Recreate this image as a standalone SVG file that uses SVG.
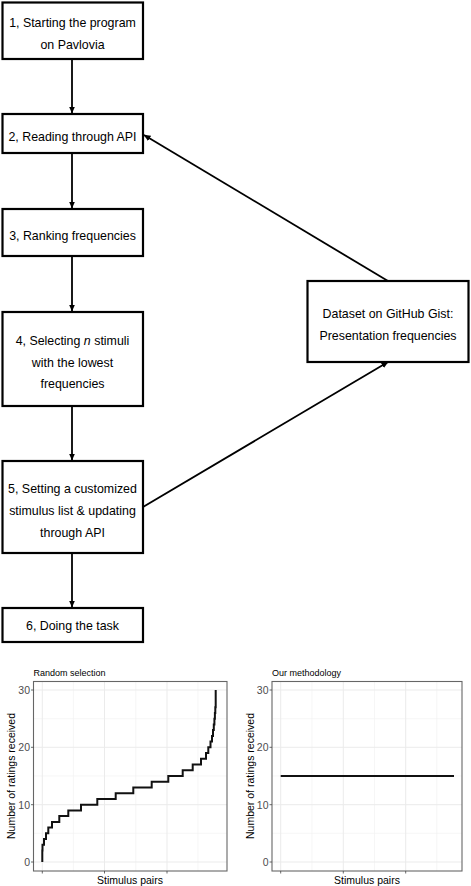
<svg xmlns="http://www.w3.org/2000/svg" width="471" height="886" viewBox="0 0 471 886">
<style>
.box{fill:#fff;stroke:#000;stroke-width:2.2}
.t{font-family:"Liberation Sans",Arial,sans-serif;font-size:12.4px;fill:#000;text-anchor:middle}
.con{stroke:#000;stroke-width:1.8;fill:none}
.gmaj{stroke:#ebebeb;stroke-width:1}
.gmin{stroke:#f2f2f2;stroke-width:0.7}
.border{fill:none;stroke:#666;stroke-width:1.1}
.tick{stroke:#444;stroke-width:0.8}
.tl{font-family:"Liberation Sans",Arial,sans-serif;font-size:10.5px;fill:#4d4d4d;text-anchor:end}
.at{font-family:"Liberation Sans",Arial,sans-serif;font-size:10.5px;fill:#000;text-anchor:middle}
.pt{font-family:"Liberation Sans",Arial,sans-serif;font-size:9px;fill:#000}
.data{fill:none;stroke:#111;stroke-width:2}
</style>
<defs>
<marker id="ah" markerWidth="7" markerHeight="6" refX="6.5" refY="3" orient="auto" markerUnits="userSpaceOnUse">
<path d="M0,0 L7,3 L0,6 Z" fill="#000"/>
</marker>
</defs>

<g id="connectors">
<line class="con" x1="72" y1="59" x2="72" y2="113" marker-end="url(#ah)"/>
<line class="con" x1="72" y1="153" x2="72" y2="208" marker-end="url(#ah)"/>
<line class="con" x1="72" y1="256" x2="72" y2="311" marker-end="url(#ah)"/>
<line class="con" x1="72" y1="406" x2="72" y2="460" marker-end="url(#ah)"/>
<line class="con" x1="72" y1="553" x2="72" y2="607" marker-end="url(#ah)"/>
<line class="con" x1="388" y1="281" x2="144" y2="135" marker-end="url(#ah)"/>
<line class="con" x1="143" y1="507" x2="388" y2="362" marker-end="url(#ah)"/>
</g>

<g id="n1">
<rect class="box" x="2.5" y="2.5" width="140.5" height="56.5"/>
<text class="t" x="72.5" y="26.5">1, Starting the program</text>
<text class="t" x="72.5" y="48.5">on Pavlovia</text>
</g>
<g id="n2">
<rect class="box" x="2.5" y="114" width="140.5" height="39"/>
<text class="t" x="72.5" y="140.5">2, Reading through API</text>
</g>
<g id="n3">
<rect class="box" x="2.5" y="209" width="140.5" height="47"/>
<text class="t" x="72.5" y="239.5">3, Ranking frequencies</text>
</g>
<g id="n4">
<rect class="box" x="2.5" y="312" width="140.5" height="94"/>
<text class="t" x="72.5" y="344.5">4, Selecting <tspan font-style="italic">n</tspan> stimuli</text>
<text class="t" x="72.5" y="366.5">with the lowest</text>
<text class="t" x="72.5" y="387.5">frequencies</text>
</g>
<g id="n5">
<rect class="box" x="2.5" y="461" width="140.5" height="92"/>
<text class="t" x="72.5" y="492.5">5, Setting a customized</text>
<text class="t" x="72.5" y="514.5">stimulus list &amp; updating</text>
<text class="t" x="72.5" y="536.5">through API</text>
</g>
<g id="n6">
<rect class="box" x="2.5" y="608" width="140.5" height="34"/>
<text class="t" x="72.5" y="629.5">6, Doing the task</text>
</g>
<g id="n7">
<rect class="box" x="307.5" y="281" width="161" height="81"/>
<text class="t" x="388" y="317.5">Dataset on GitHub Gist:</text>
<text class="t" x="388" y="339.5">Presentation frequencies</text>
</g>

<g id="plot-left">
<text class="pt" x="33.5" y="676">Random selection</text>
<line class="gmin" x1="33.5" x2="227" y1="718.7" y2="718.7"/>
<line class="gmin" x1="33.5" x2="227" y1="776" y2="776"/>
<line class="gmin" x1="33.5" x2="227" y1="833.3" y2="833.3"/>
<line class="gmin" x1="73.4" x2="73.4" y1="681.5" y2="871"/>
<line class="gmin" x1="135.8" x2="135.8" y1="681.5" y2="871"/>
<line class="gmin" x1="198" x2="198" y1="681.5" y2="871"/>
<line class="gmaj" x1="33.5" x2="227" y1="690" y2="690"/>
<line class="gmaj" x1="33.5" x2="227" y1="747.3" y2="747.3"/>
<line class="gmaj" x1="33.5" x2="227" y1="804.7" y2="804.7"/>
<line class="gmaj" x1="33.5" x2="227" y1="862" y2="862"/>
<line class="gmaj" x1="42.3" x2="42.3" y1="681.5" y2="871"/>
<line class="gmaj" x1="104.5" x2="104.5" y1="681.5" y2="871"/>
<line class="gmaj" x1="167" x2="167" y1="681.5" y2="871"/>
<path class="data" d="M42.3,862 V850.5 H42.5 V844.8 H44 V839.1 H46 V833.3 H48.3 V827.6 H52 V821.9 H59.3 V816.1 H68.3 V810.4 H81 V804.7 H97.3 V798.9 H115.7 V793.2 H133.3 V787.5 H151.7 V781.7 H168.3 V776 H182.7 V770.3 H192.7 V764.5 H201 V758.8 H206 V753.1 H208.3 V747.3 H210.5 V741.6 H212 V735.9 H213 V730.1 H213.8 V724.4 H214.4 V718.7 H214.9 V712.9 H215.3 V707.2 H215.7 V690"/>
<rect class="border" x="33.5" y="681.5" width="193.5" height="189.5"/>
<g class="tick">
<line x1="31" x2="33.5" y1="690" y2="690"/>
<line x1="31" x2="33.5" y1="747.3" y2="747.3"/>
<line x1="31" x2="33.5" y1="804.7" y2="804.7"/>
<line x1="31" x2="33.5" y1="862" y2="862"/>
<line x1="42.3" x2="42.3" y1="871" y2="873.5"/>
<line x1="104.5" x2="104.5" y1="871" y2="873.5"/>
<line x1="167" x2="167" y1="871" y2="873.5"/>
</g>
<text class="tl" x="30" y="693.8">30</text>
<text class="tl" x="30" y="751.1">20</text>
<text class="tl" x="30" y="808.5">10</text>
<text class="tl" x="30" y="865.8">0</text>
<text class="at" x="130" y="884">Stimulus pairs</text>
<text class="at" transform="translate(15,776) rotate(-90)">Number of ratings received</text>
</g>

<g id="plot-right">
<text class="pt" x="272" y="676">Our methodology</text>
<line class="gmin" x1="272" x2="462" y1="718.7" y2="718.7"/>
<line class="gmin" x1="272" x2="462" y1="776" y2="776"/>
<line class="gmin" x1="272" x2="462" y1="833.3" y2="833.3"/>
<line class="gmin" x1="312" x2="312" y1="681.5" y2="871"/>
<line class="gmin" x1="374.5" x2="374.5" y1="681.5" y2="871"/>
<line class="gmin" x1="436.8" x2="436.8" y1="681.5" y2="871"/>
<line class="gmaj" x1="272" x2="462" y1="690" y2="690"/>
<line class="gmaj" x1="272" x2="462" y1="747.3" y2="747.3"/>
<line class="gmaj" x1="272" x2="462" y1="804.7" y2="804.7"/>
<line class="gmaj" x1="272" x2="462" y1="862" y2="862"/>
<line class="gmaj" x1="280.7" x2="280.7" y1="681.5" y2="871"/>
<line class="gmaj" x1="343.3" x2="343.3" y1="681.5" y2="871"/>
<line class="gmaj" x1="405.7" x2="405.7" y1="681.5" y2="871"/>
<line class="data" x1="280.7" y1="776" x2="454" y2="776"/>
<rect class="border" x="272" y="681.5" width="190" height="189.5"/>
<g class="tick">
<line x1="269.5" x2="272" y1="690" y2="690"/>
<line x1="269.5" x2="272" y1="747.3" y2="747.3"/>
<line x1="269.5" x2="272" y1="804.7" y2="804.7"/>
<line x1="269.5" x2="272" y1="862" y2="862"/>
<line x1="280.7" x2="280.7" y1="871" y2="873.5"/>
<line x1="343.3" x2="343.3" y1="871" y2="873.5"/>
<line x1="405.7" x2="405.7" y1="871" y2="873.5"/>
</g>
<text class="tl" x="268.5" y="693.8">30</text>
<text class="tl" x="268.5" y="751.1">20</text>
<text class="tl" x="268.5" y="808.5">10</text>
<text class="tl" x="268.5" y="865.8">0</text>
<text class="at" x="367" y="884">Stimulus pairs</text>
<text class="at" transform="translate(254,776) rotate(-90)">Number of ratings received</text>
</g>
</svg>
